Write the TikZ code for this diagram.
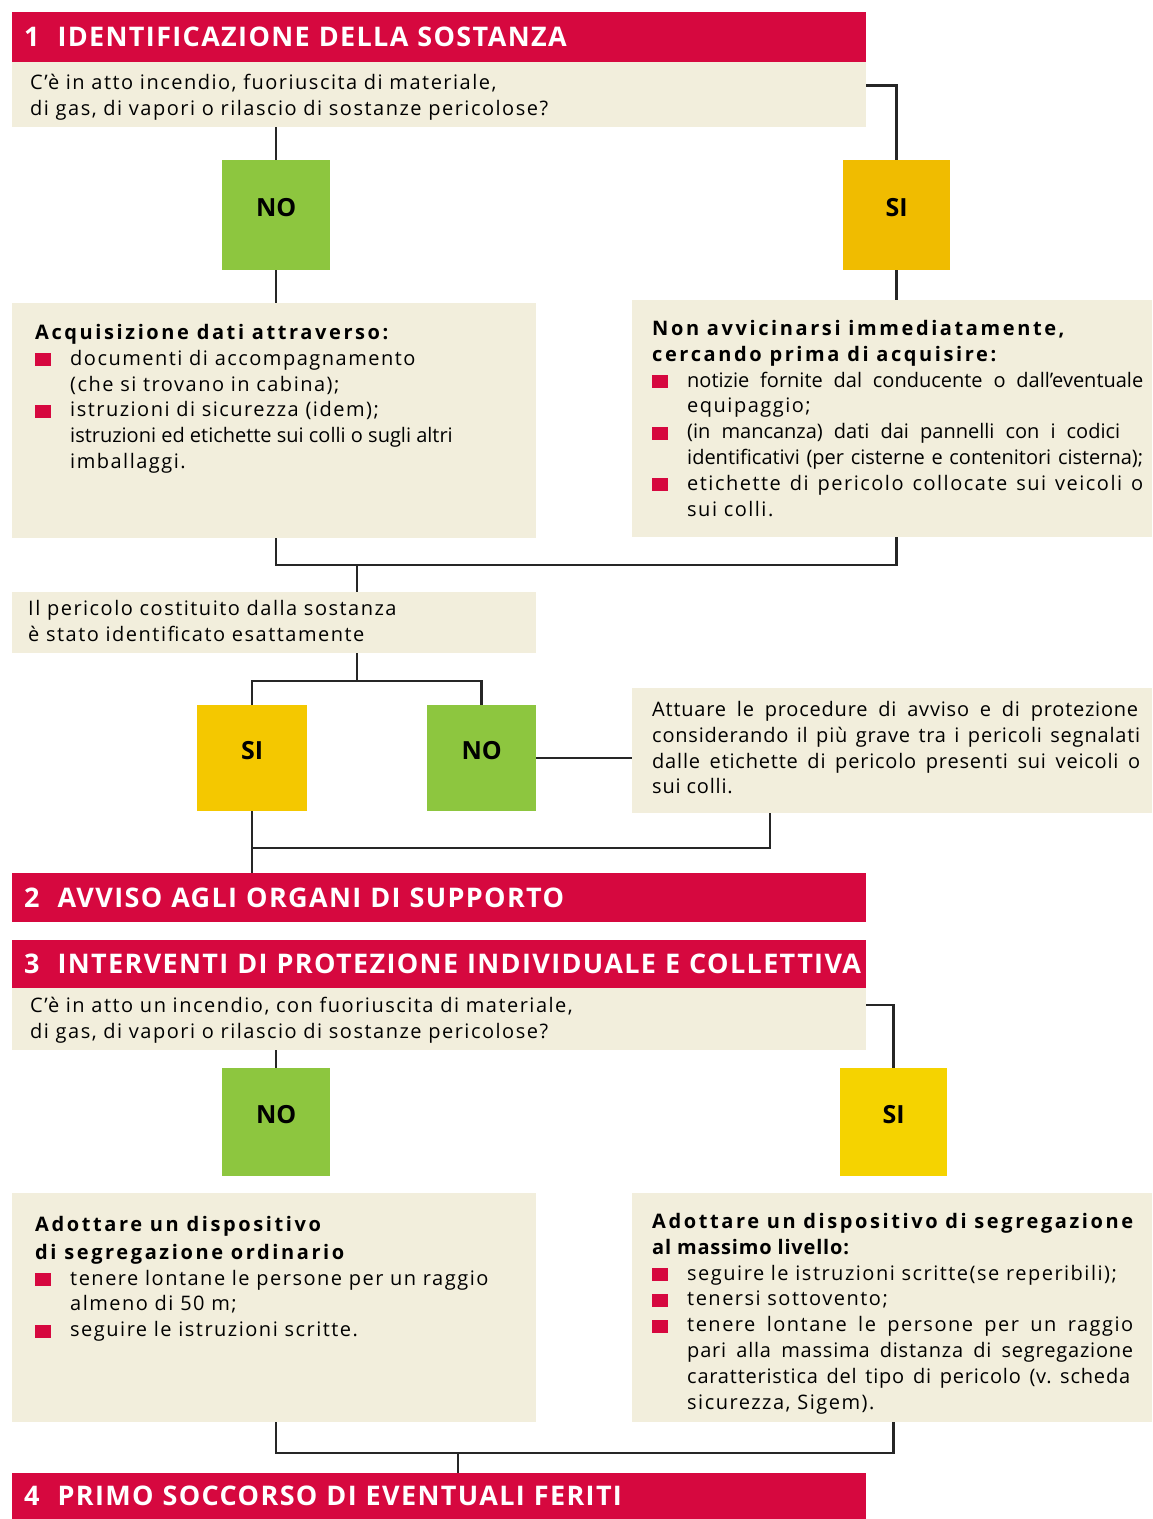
\documentclass[tikz,border=0pt]{standalone}
\usepackage{fontspec}
\setmainfont{Open Sans}
\newfontfamily\bodyfont[LetterSpace=7.5]{Open Sans}
\newfontfamily\plainfont{Open Sans}
\newfontfamily\midfont[LetterSpace=4]{Open Sans}
\newfontfamily\headfont[LetterSpace=13]{Open Sans}
\newfontfamily\hdrfont[LetterSpace=5]{Open Sans}
\definecolor{hdred}{HTML}{D6083F}
\definecolor{beige}{HTML}{F2EEDC}
\definecolor{nogreen}{HTML}{8DC63F}
\definecolor{siyelA}{HTML}{F0BC00}
\definecolor{siyelB}{HTML}{F4C800}
\definecolor{siyelC}{HTML}{F5D300}
\newcommand\bx{\makebox[35pt][l]{\textcolor{hdred}{\rule[-1pt]{16pt}{13pt}}}}
\newcommand\ind{\hspace*{35pt}}
\newcommand\bhead[1]{{\headfont\bfseries #1}}
\newcommand\jl[2]{\makebox[#1][s]{#2}}
\newcommand\hdtext[2]{\mbox{#1\hspace{18pt}#2}}
\tikzset{
  hdr/.style={fill=hdred, text=white, anchor=north west, text width=830pt,
    inner xsep=12pt, inner ysep=0pt, align=left,
    font=\hdrfont\bfseries\fontsize{27}{27}\selectfont},
  panel/.style={fill=beige, anchor=north west, inner sep=0pt},
  txt/.style={anchor=north west, inner sep=0pt, align=left,
    font=\bodyfont\fontsize{20}{25.8}\selectfont},
  choice/.style={anchor=north west, inner sep=0pt, text height=18pt, text depth=16pt,
    font=\bfseries\fontsize{25}{25}\selectfont},
  conn/.style={line width=2.5pt, draw=black!85}
}
\begin{document}
\begin{tikzpicture}[x=1pt,y=-1pt]
\useasboundingbox[fill=white] (0,0) rectangle (1152,1519);

% ---------- section 1
\node[hdr, minimum height=50pt] (h1) at (12,12) {\hdtext{1}{IDENTIFICAZIONE DELLA SOSTANZA}};
\node[panel, minimum width=854pt, minimum height=65pt] (q1) at (12,62) {};
\node[txt] (tq1) at (30,74) {C’è in atto incendio, fuoriuscita di materiale,\\di gas, di vapori o rilascio di sostanze pericolose?};

\node[choice, fill=nogreen, minimum width=108pt, minimum height=110pt] (no1) at (222,160) {NO};
\node[choice, fill=siyelA, minimum width=107pt, minimum height=110pt] (si1) at (843,160) {SI};

\node[panel, minimum width=524pt, minimum height=235pt] (b1l) at (12,303) {};
\node[txt] (tb1l) at (35,324) {\bhead{Acquisizione dati attraverso:}\\
\bx documenti di accompagnamento\\
\ind(che si trovano in cabina);\\
\bx istruzioni di sicurezza (idem);\\
\ind{\plainfont istruzioni ed etichette sui colli o sugli altri}\\
\ind imballaggi.};

\node[panel, minimum width=520pt, minimum height=237pt] (b1r) at (632,300) {};
\node[txt] (tb1r) at (652,320) {\bhead{Non avvicinarsi immediatamente,}\\
\bhead{cercando prima di acquisire:}\\
\bx\jl{456pt}{\plainfont notizie fornite dal conducente o dall’eventuale}\\
\ind equipaggio;\\
\bx\jl{433pt}{\plainfont (in mancanza) dati dai pannelli con i codici}\\
\ind\jl{456pt}{\plainfont identificativi (per cisterne e contenitori cisterna);}\\
\bx\jl{456pt}{etichette di pericolo collocate sui veicoli o}\\
\ind sui colli.};

\coordinate (j1) at (357,565);
\node[panel, minimum width=524pt, minimum height=61pt] (q2) at (12,592) {};
\node[txt] (tq2) at (28,600) {Il pericolo costituito dalla sostanza\\è stato identificato esattamente};

\coordinate (j2) at (357,681);
\node[choice, fill=siyelB, minimum width=110pt, minimum height=106pt] (si2) at (197,705) {SI};
\node[choice, fill=nogreen, minimum width=109pt, minimum height=106pt] (no2) at (427,705) {NO};

\node[panel, minimum width=520pt, minimum height=125pt] (b3) at (632,688) {};
\node[txt] (tb3) at (652,701) {\jl{486pt}{\midfont Attuare le procedure di avviso e di protezione}\\
\jl{488pt}{\midfont considerando il più grave tra i pericoli segnalati}\\
\jl{488pt}{\midfont dalle etichette di pericolo presenti sui veicoli o}\\
{\midfont sui colli.}};
\coordinate (j3) at (770,848);

% ---------- sections 2, 3
\node[hdr, minimum height=49pt] (h2) at (12,873) {\hdtext{2}{AVVISO AGLI ORGANI DI SUPPORTO}};
\node[hdr, minimum height=48pt] (h3) at (12,940) {\hdtext{3}{INTERVENTI DI PROTEZIONE INDIVIDUALE E COLLETTIVA}};
\node[panel, minimum width=854pt, minimum height=62pt] (q3) at (12,988) {};
\node[txt] (tq3) at (30,997) {C’è in atto un incendio, con fuoriuscita di materiale,\\di gas, di vapori o rilascio di sostanze pericolose?};

\node[choice, fill=nogreen, minimum width=108pt, minimum height=108pt] (no3) at (222,1068) {NO};
\node[choice, fill=siyelC, minimum width=107pt, minimum height=108pt] (si3) at (840,1068) {SI};

\node[panel, minimum width=524pt, minimum height=229pt] (b2l) at (12,1193) {};
\node[txt] (tb2l) at (35,1216) {\bhead{Adottare un dispositivo}\\[2pt]
\bhead{di segregazione ordinario}\\
\bx tenere lontane le persone per un raggio\\
\ind almeno di 50 m;\\
\bx seguire le istruzioni scritte.};

\node[panel, minimum width=520pt, minimum height=229pt] (b2r) at (632,1193) {};
\node[txt] (tb2r) at (652,1213) {\jl{481pt}{\bhead{Adottare un dispositivo di segregazione}}\\
{\midfont\bfseries al massimo livello:}\\
\bx seguire le istruzioni scritte(se reperibili);\\
\bx tenersi sottovento;\\
\bx\jl{446pt}{tenere lontane le persone per un raggio}\\
\ind\jl{446pt}{\midfont pari alla massima distanza di segregazione}\\
\ind\jl{443pt}{\midfont caratteristica del tipo di pericolo (v.\ scheda}\\
\ind sicurezza, Sigem).};

\coordinate (j4) at (458,1453);
\node[hdr, minimum height=46pt] (h4) at (12,1473) {\hdtext{4}{PRIMO SOCCORSO DI EVENTUALI FERITI}};

% ---------- connectors
\draw[conn] (q1.south -| no1) -- (no1.north);
\draw[conn] ([yshift=9pt]q1.east) -| (si1.north);
\draw[conn] (no1.south) -- (b1l.north -| no1);
\draw[conn] (si1.south) -- (b1r.north -| si1);
\draw[conn] (b1l.south -| no1) |- (j1);
\draw[conn] (j1) -| (b1r.south -| si1);
\draw[conn] (j1) -- (q2.north -| j1);
\draw[conn] (q2.south -| j1) -- (j2);
\draw[conn] (j2) -| (si2.north);
\draw[conn] (j2) -| (no2.north);
\draw[conn] (no2.east) -- (b3.west |- no2.east);
\draw[conn] (si2.south) -- (h2.north -| si2);
\draw[conn] (b3.south -| j3) -- (j3) -- (j3 -| si2);

\draw[conn] (q3.south -| no3) -- (no3.north);
\draw[conn] ([yshift=14pt]q3.east) -| (si3.north);
\draw[conn] (b2l.south -| no3) |- (j4);
\draw[conn] (j4) -| (b2r.south -| si3);
\draw[conn] (j4) -- (h4.north -| j4);
\end{tikzpicture}
\end{document}
